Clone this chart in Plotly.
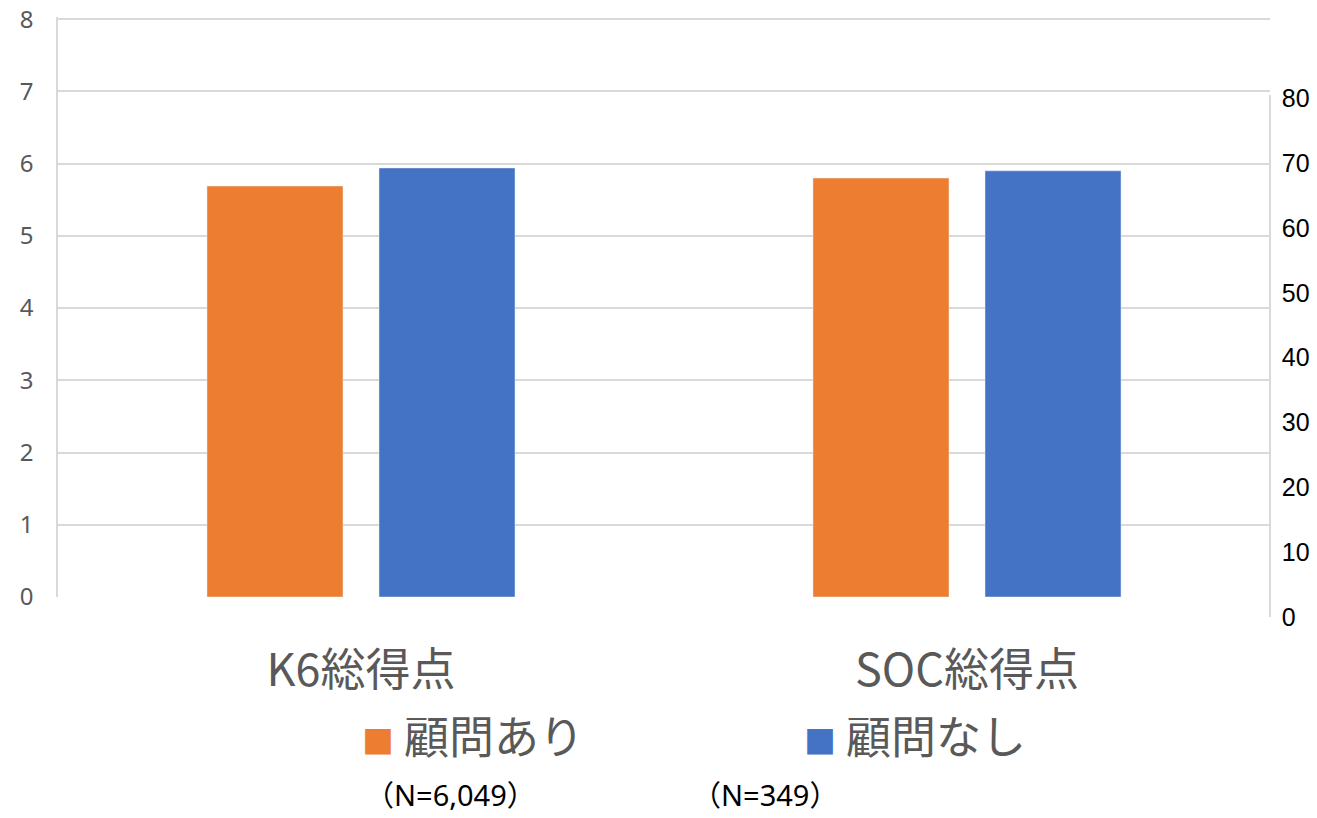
import plotly.graph_objects as go

# ── Data ──────────────────────────────────────────────────────────────────────
categories = ["K6総得点", "SOC総得点"]
series_names = ["顧問あり", "顧問なし"]
with_advisor = [5.69, 5.80]
without_advisor = [5.94, 5.90]
sample_sizes = ["（N=6,049）", "（N=349）"]
left_ticks = [0, 1, 2, 3, 4, 5, 6, 7, 8]
right_ticks = [0, 10, 20, 30, 40, 50, 60, 70, 80]

ORANGE = "#ED7D31"
BLUE = "#4472C4"
GRAY = "#595959"
GRID = "#D9D9D9"
JP_FONT = "Noto Sans CJK JP"

fig = go.Figure()

for name, values, color in [(series_names[0], with_advisor, ORANGE),
                            (series_names[1], without_advisor, BLUE)]:
    fig.add_trace(go.Bar(x=categories, y=values, name=name,
                         marker_color=color, showlegend=False))

# dummy trace so the free-standing right axis gets drawn
fig.add_trace(go.Scatter(x=[0], y=[0], xaxis="x2", yaxis="y2",
                         mode="markers", marker=dict(opacity=0),
                         showlegend=False, hoverinfo="skip"))

# ── Layout ────────────────────────────────────────────────────────────────────
fig.update_layout(
    width=1317, height=818,
    margin=dict(l=58, r=47, t=17, b=198, autoexpand=False),
    paper_bgcolor="white", plot_bgcolor="rgba(0,0,0,0)",
    barmode="group", bargap=0.4323, bargroupgap=0.2093,
    showlegend=False,
    xaxis=dict(
        domain=[0, 1], anchor="y", automargin=False,
        showgrid=False, zeroline=False, showline=False,
        ticks="outside", ticklen=34, tickcolor="rgba(0,0,0,0)",
        tickfont=dict(family=JP_FONT, size=45, color=GRAY),
    ),
    yaxis=dict(
        domain=[23 / 603, 1], range=[0, 8.03], tickvals=left_ticks,
        automargin=False, ticklabeloverflow="allow",
        showgrid=True, gridcolor=GRID, gridwidth=1.5,
        zeroline=False, showline=True, linecolor=GRID, linewidth=1.5,
        ticklabelstandoff=18,
        tickfont=dict(family="Noto Sans", size=24, color=GRAY),
    ),
    xaxis2=dict(domain=[0, 1], anchor="y2", visible=False, range=[-1, 1]),
    yaxis2=dict(
        domain=[3 / 603, 525 / 603], range=[0, 80.5], tickvals=right_ticks,
        side="right", anchor="free", position=1, automargin=False,
        ticklabeloverflow="allow",
        showgrid=False, zeroline=False, showline=True,
        linecolor=GRID, linewidth=1.5, ticklabelstandoff=6,
        tickfont=dict(family="Liberation Sans", size=25, color="#000000"),
    ),
)

# legend drawn as annotations so the swatches can be as large as in the original
legend_colors = [ORANGE, BLUE]
legend_x = [0.249, 0.614]
for name, color, x in zip(series_names, legend_colors, legend_x):
    fig.add_annotation(
        text=f'<span style="color:{color};font-size:32px">■</span> {name}',
        xref="paper", yref="paper", x=x, y=-0.1907,
        xanchor="left", yanchor="middle", showarrow=False,
        font=dict(family=JP_FONT, size=45, color=GRAY),
    )

n_x = [0.324, 0.583]
for label, x in zip(sample_sizes, n_x):
    fig.add_annotation(
        text=label, xref="paper", yref="paper", x=x, y=-0.290,
        xanchor="center", yanchor="middle", showarrow=False,
        font=dict(family="Noto Sans, Noto Sans CJK JP", size=29, color="#000000"),
    )

# drop the default body margin so the figure fills the window exactly
fig.write_html("out.html", config={"displayModeBar": False},
               post_script="document.body.style.margin = '0';")
